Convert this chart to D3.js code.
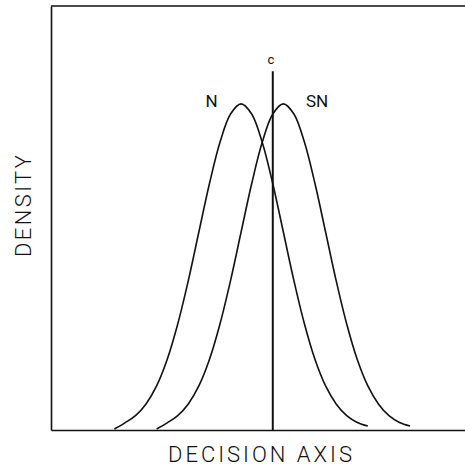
<!DOCTYPE html>
<html>
<head>
<meta charset="utf-8">
<script src="https://cdn.jsdelivr.net/npm/d3@7"></script>
<style>
  body { margin: 0; background: #fff; }
  .curve { fill: none; stroke: #111; stroke-width: 1.6; }
  .axis path { stroke: #111; stroke-width: 1.6; }
  text { font-family: Roboto, "DejaVu Sans", sans-serif; fill: #111; }
</style>
</head>
<body>
<script>
// data (decision axis in noise SD units, density relative to peak)
const noiseX = [-3, -2.75, -2.5, -2.25, -2, -1.75, -1.5, -1.25, -1, -0.75, -0.5, -0.25, 0,
                0.25, 0.5, 0.75, 1, 1.25, 1.5, 1.75, 2, 2.25, 2.5, 2.75, 3];
const noiseY = [0.003, 0.022, 0.044, 0.080, 0.135, 0.216, 0.325, 0.458, 0.607, 0.755, 0.882, 0.969, 1.0,
                0.969, 0.882, 0.755, 0.607, 0.458, 0.325, 0.216, 0.135, 0.080, 0.044, 0.023, 0.012];
const signalX = [-2, -1.75, -1.5, -1.25, -1, -0.75, -0.5, -0.25, 0, 0.25, 0.5, 0.75, 1,
                 1.25, 1.5, 1.75, 2, 2.25, 2.5, 2.75, 3, 3.25, 3.5, 3.75, 4];
const signalY = [0.003, 0.022, 0.044, 0.080, 0.135, 0.216, 0.325, 0.458, 0.607, 0.755, 0.882, 0.969, 1.0,
                 0.969, 0.882, 0.755, 0.607, 0.458, 0.325, 0.216, 0.135, 0.080, 0.044, 0.023, 0.012];
const criterion = 0.75;
const curveLabels = ["N", "SN"];

const w = 465;
const h = 468;
const mLeft = 51, mTop = 6, mBottom = 430;

const xScale = d3.scaleLinear().domain([-4.5, 5.3]).range([mLeft, w]);
const yScale = d3.scaleLinear().domain([0, 1.3]).range([mBottom, mTop]);

const svg = d3.select("body").append("svg")
    .attr("width", w)
    .attr("height", h);

// frame: bottom + left axes without ticks, plus a top rule
svg.append("g")
    .attr("class", "axis")
    .attr("transform", "translate(0," + mBottom + ")")
    .call(d3.axisBottom(xScale).tickValues([]).tickSizeOuter(0));

svg.append("g")
    .attr("class", "axis")
    .attr("transform", "translate(" + mLeft + ",0)")
    .call(d3.axisLeft(yScale).tickValues([]).tickSizeOuter(0));

svg.append("line")
    .attr("x1", mLeft).attr("x2", w)
    .attr("y1", mTop).attr("y2", mTop)
    .attr("stroke", "#111").attr("stroke-width", 1.6);

const line = d3.line()
    .curve(d3.curveCatmullRom)
    .x(d => xScale(d[0]))
    .y(d => yScale(d[1]));

svg.append("path")
    .attr("class", "curve")
    .attr("d", line(d3.zip(noiseX, noiseY)));

svg.append("path")
    .attr("class", "curve")
    .attr("d", line(d3.zip(signalX, signalY)));

// criterion
svg.append("line")
    .attr("x1", xScale(criterion)).attr("x2", xScale(criterion))
    .attr("y1", yScale(1.1)).attr("y2", mBottom)
    .attr("stroke", "#111").attr("stroke-width", 2);

svg.append("text")
    .attr("x", xScale(criterion) - 2)
    .attr("y", yScale(1.1) - 7)
    .attr("text-anchor", "middle")
    .style("font-size", "13px")
    .text("c");

// curve labels
svg.append("text")
    .attr("x", xScale(-0.7))
    .attr("y", yScale(1.0) + 3)
    .attr("text-anchor", "middle")
    .style("font-size", "17px")
    .text(curveLabels[0]);

svg.append("text")
    .attr("x", xScale(1.8))
    .attr("y", yScale(1.0) + 3)
    .attr("text-anchor", "middle")
    .style("font-size", "17px")
    .text(curveLabels[1]);

// axis titles
svg.append("text")
    .attr("x", 260)
    .attr("y", 462)
    .attr("text-anchor", "middle")
    .attr("textLength", 184)
    .style("font-size", "22px")
    .style("font-weight", 300)
    .text("DECISION AXIS");

svg.append("text")
    .attr("transform", "translate(31,206) rotate(-90)")
    .attr("text-anchor", "middle")
    .attr("textLength", 102)
    .style("font-size", "22px")
    .style("font-weight", 300)
    .text("DENSITY");
</script>
</body>
</html>
